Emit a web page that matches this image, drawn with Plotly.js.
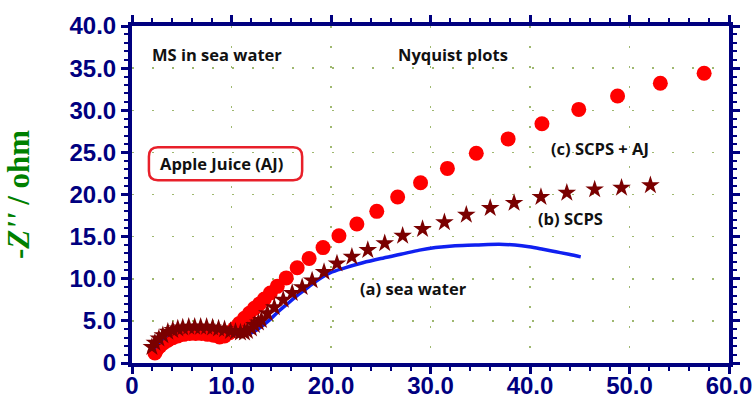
<!DOCTYPE html>
<html>
<head>
<meta charset="utf-8">
<script src="https://cdn.plot.ly/plotly-3.0.1.min.js"></script>
<style>html,body{margin:0;padding:0;background:#fff;}#chart{width:753px;height:401px;}</style>
</head>
<body>
<div id="chart"></div>
<script>
// (a) sea water — blue line
const seaX = [2.2, 2.6, 3.0, 3.5, 4.0, 4.6, 5.2, 5.8, 6.5, 7.2, 7.9, 8.6, 9.3, 10.0, 10.6, 11.2, 11.8, 12.5, 13.2, 14.0, 14.8, 15.6, 16.5, 17.5, 18.6, 19.9, 21.4, 23.2, 25.0, 27.0, 28.9, 30.5, 32.2, 34.5, 36.9, 38.5, 39.9, 41.3, 42.6, 43.9, 45.1];
const seaY = [1.7, 2.3, 2.8, 3.3, 3.7, 4.0, 4.2, 4.3, 4.3, 4.3, 4.2, 4.0, 3.8, 3.6, 3.4, 3.4, 3.5, 3.9, 4.5, 5.3, 6.2, 7.0, 7.9, 8.8, 9.8, 10.7, 11.3, 11.9, 12.4, 12.9, 13.4, 13.7, 13.9, 14.0, 14.1, 14.0, 13.8, 13.5, 13.2, 12.9, 12.6];

// (b) SCPS — dark red stars
const scpsX = [2.0, 2.3, 2.7, 3.1, 3.6, 4.1, 4.6, 5.1, 5.7, 6.3, 6.9, 7.5, 8.1, 8.7, 9.3, 9.9, 10.4, 10.9, 11.3, 11.6, 12.0, 12.3, 12.7, 13.0, 13.6, 14.3, 15.2, 16.1, 17.1, 18.1, 19.3, 20.6, 22.1, 23.7, 25.4, 27.2, 29.2, 31.4, 33.6, 36.0, 38.4, 41.1, 43.7, 46.5, 49.2, 52.1];
const scpsY = [1.9, 2.4, 2.9, 3.3, 3.7, 3.9, 4.1, 4.2, 4.3, 4.3, 4.3, 4.3, 4.2, 4.1, 4.0, 3.8, 3.7, 3.6, 3.6, 3.8, 4.1, 4.5, 4.8, 5.1, 5.9, 6.6, 7.5, 8.3, 9.0, 9.8, 10.8, 11.8, 12.6, 13.4, 14.2, 15.1, 15.9, 16.7, 17.6, 18.4, 19.0, 19.7, 20.2, 20.6, 20.8, 21.1];

// (c) SCPS + AJ — red circles
const ajX = [2.3, 2.5, 2.8, 3.2, 3.6, 4.1, 4.6, 5.2, 5.8, 6.4, 7.0, 7.6, 8.2, 8.8, 9.3, 9.8, 10.3, 10.8, 11.3, 11.8, 12.3, 12.8, 13.3, 13.9, 14.6, 15.5, 16.6, 17.8, 19.2, 20.8, 22.6, 24.6, 26.7, 29.0, 31.7, 34.6, 37.8, 41.2, 44.9, 48.8, 53.1, 57.5];
const ajY = [1.2, 1.6, 2.0, 2.4, 2.7, 3.0, 3.2, 3.4, 3.5, 3.5, 3.5, 3.4, 3.3, 3.1, 3.2, 3.6, 4.1, 4.7, 5.3, 5.9, 6.5, 7.0, 7.6, 8.3, 9.1, 10.1, 11.3, 12.4, 13.7, 15.1, 16.5, 18.0, 19.7, 21.4, 23.1, 24.9, 26.6, 28.4, 30.1, 31.7, 33.2, 34.4];

// tick labels
const xTickVals = [0, 10, 20, 30, 40, 50, 60];
const xTickText = ["0", "10.0", "20.0", "30.0", "40.0", "50.0", "60.0"];
const yTickVals = [0, 5, 10, 15, 20, 25, 30, 35, 40];
const yTickText = ["0", "5.0", "10.0", "15.0", "20.0", "25.0", "30.0", "35.0", "40.0"];

const navy = '#00007f';
const gridCol = '#9fb870';
const tickFont = {family: 'Arial, Liberation Sans, sans-serif', size: 24, color: navy, weight: 'bold'};
const labFont = {family: 'Open Sans, Noto Sans, sans-serif', size: 16.5, color: '#111111', weight: 'bold'};

const traces = [
  {x: seaX, y: seaY, type: 'scatter', mode: 'lines', line: {color: '#1020f0', width: 3.5, shape: 'spline'}, name: '(a) sea water'},
  {x: scpsX, y: scpsY, type: 'scatter', mode: 'markers', marker: {symbol: 'star', size: 14, color: '#7a0000', line: {width: 0}}, name: '(b) SCPS'},
  {x: ajX, y: ajY, type: 'scatter', mode: 'markers', marker: {symbol: 'circle', size: 15, color: '#ff0000', line: {width: 0}}, name: '(c) SCPS + AJ'}
];
const data = [traces[2], traces[0], traces[1]];

const axisCommon = {
  showline: true, linewidth: 4, linecolor: navy, mirror: 'allticks',
  ticks: 'outside', ticklen: 7, tickwidth: 3, tickcolor: navy,
  tickfont: tickFont, showgrid: true, gridcolor: gridCol, gridwidth: 1.5, griddash: '2px,18px',
  zeroline: false, fixedrange: true, automargin: false
};

const layout = {
  width: 753, height: 401,
  margin: {l: 132, r: 24, t: 26, b: 38},
  paper_bgcolor: '#ffffff', plot_bgcolor: '#ffffff',
  showlegend: false,
  xaxis: Object.assign({}, axisCommon, {
    range: [0, 60], tickmode: 'array', tickvals: xTickVals, ticktext: xTickText,
    ticklabelstandoff: -9,
    minor: {dtick: 2, tick0: 0, ticks: 'outside', ticklen: 4, tickwidth: 2, tickcolor: navy, showgrid: false}
  }),
  yaxis: Object.assign({}, axisCommon, {
    range: [0, 40], tickmode: 'array', tickvals: yTickVals, ticktext: yTickText,
    minor: {dtick: 1, tick0: 0, ticks: 'outside', ticklen: 4, tickwidth: 2, tickcolor: navy, showgrid: false},
    title: {text: "-<i>Z''</i> / ohm", standoff: 32, font: {family: 'Liberation Serif, Times New Roman, serif', size: 31, color: '#008000', weight: 'bold'}}
  }),
  annotations: [
    {x: 1.8, y: 36.6, xref: 'x', yref: 'y', xanchor: 'left', yanchor: 'middle', text: 'MS in sea water', showarrow: false, font: labFont},
    {x: 26.5, y: 36.6, xref: 'x', yref: 'y', xanchor: 'left', yanchor: 'middle', text: 'Nyquist plots', showarrow: false, font: labFont},
    {x: 9.0, y: 23.7, xref: 'x', yref: 'y', xanchor: 'center', yanchor: 'middle', text: 'Apple Juice (AJ)', showarrow: false, font: labFont},
    {x: 41.9, y: 25.5, xref: 'x', yref: 'y', xanchor: 'left', yanchor: 'middle', text: '(c) SCPS + AJ', showarrow: false, font: labFont},
    {x: 40.6, y: 17.1, xref: 'x', yref: 'y', xanchor: 'left', yanchor: 'middle', text: '(b) SCPS', showarrow: false, font: labFont},
    {x: 22.7, y: 8.8, xref: 'x', yref: 'y', xanchor: 'left', yanchor: 'middle', text: '(a) sea water', showarrow: false, font: labFont}
  ],
  shapes: [
    {type: 'path', xref: 'x', yref: 'y', line: {color: '#e8202a', width: 2.5},
     path: 'M 2.6,25.6 L 16.2,25.6 Q 17.1,25.6 17.1,24.5 L 17.1,22.8 Q 17.1,21.7 16.2,21.7 L 2.6,21.7 Q 1.7,21.7 1.7,22.8 L 1.7,24.5 Q 1.7,25.6 2.6,25.6 Z'}
  ]
};

Plotly.newPlot('chart', data, layout, {displayModeBar: false, staticPlot: true});
</script>
</body>
</html>
